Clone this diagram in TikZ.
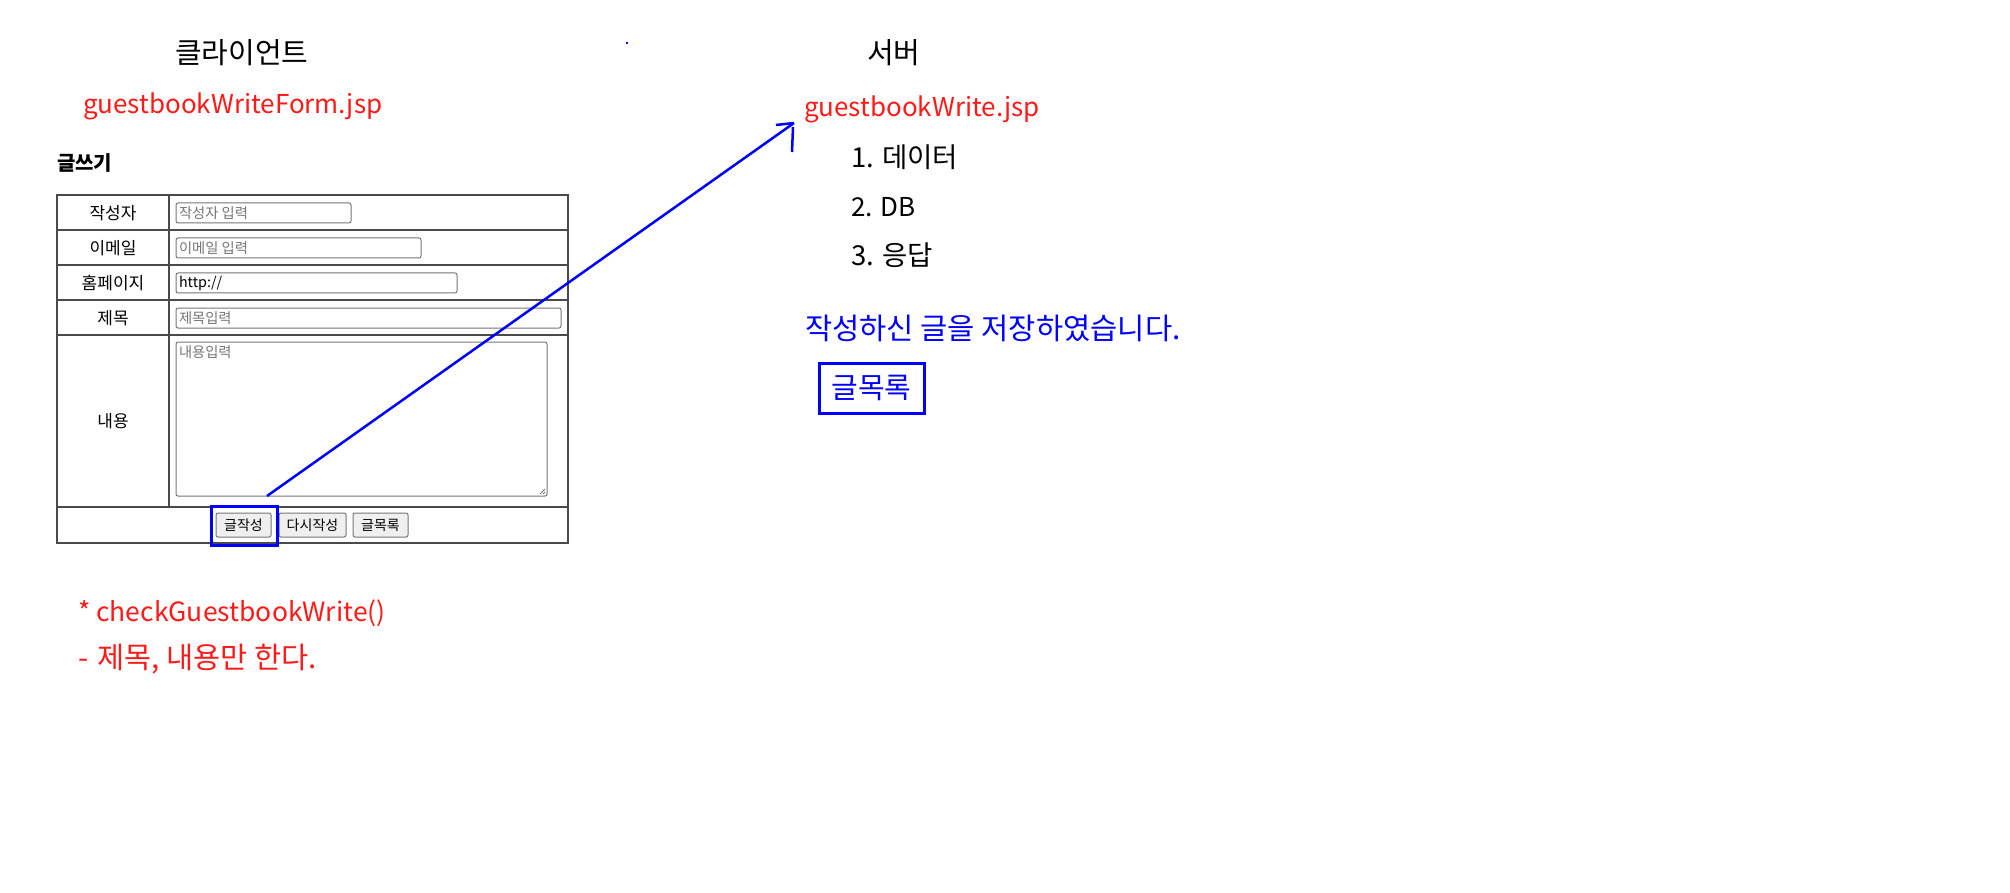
\documentclass[tikz,border=0pt]{standalone}
\usepackage{fontspec}
\setmainfont{Noto Sans CJK KR}
\definecolor{tline}{HTML}{4A4A4A}
\definecolor{ibord}{HTML}{767676}
\definecolor{phc}{HTML}{757575}
\definecolor{btnfill}{HTML}{EFEFEF}
\definecolor{redtxt}{HTML}{FF1A1A}
\definecolor{bluel}{HTML}{0000FF}
\newcommand{\fsz}[1]{\fontsize{#1}{#1}\selectfont}
\begin{document}
\begin{tikzpicture}[x=1pt,y=-1pt,
  every node/.style={inner sep=0pt, outer sep=0pt},
  txt/.style={anchor=base west},
  tbl/.style={draw=tline, line width=2pt},
  inbox/.style={draw=ibord, line width=1pt, rounded corners=2pt, fill=white},
  btnbox/.style={draw=ibord, line width=1pt, rounded corners=2pt, fill=btnfill},
  lbl/.style={font=\fsz{17}, text=black},
  phtxt/.style={anchor=west, font=\fsz{14.3}, text=phc},
  btntxt/.style={font=\fsz{14}, text=black},
  hl/.style={draw=bluel, line width=3pt},
  conn/.style={draw=bluel, line width=2.5pt}]
\useasboundingbox (0,0) rectangle (2010,893);
\fill[white] (0,0) rectangle (2010,893);

% titles
\node[txt, font=\fsz{29}] (client) at (175,64) {클라이언트};
\node[txt, font=\fsz{29}] (server) at (867,64) {서버};
\fill[bluel] (626,42) rectangle (628,44);

% client side
\node[txt, font=\fsz{26}, text=redtxt] (formjsp) at (83,114) {guestbookWriteForm.jsp};
\node[txt, font=\fsz{20}\bfseries] (write) at (57,171) {글쓰기};

% table
\draw[tbl] (57,195) rectangle (568,543);
\draw[tbl] (57,230) -- (568,230);
\draw[tbl] (57,265) -- (568,265);
\draw[tbl] (57,300) -- (568,300);
\draw[tbl] (57,335) -- (568,335);
\draw[tbl] (57,507) -- (568,507);
\draw[tbl] (169,195) -- (169,507);

\node[lbl] (l1) at (113,213) {작성자};
\node[lbl] (l2) at (113,248) {이메일};
\node[lbl] (l3) at (113,283) {홈페이지};
\node[lbl] (l4) at (113,318) {제목};
\node[lbl] (l5) at (113,421) {내용};

\draw[inbox] (176,203) rectangle (351,223);
\draw[inbox] (176,238) rectangle (421,258);
\draw[inbox] (176,273) rectangle (457,293);
\draw[inbox] (176,308) rectangle (561,328);
\draw[inbox] (176,342) rectangle (547,496);
\draw[ibord, line width=0.8pt] (545,489) -- (540,494) (545,492) -- (543,494);

\node[phtxt] (p1) at (179,213) {작성자 입력};
\node[phtxt] (p2) at (179,248) {이메일 입력};
\node[phtxt, text=black] (p3) at (179,283) {http://};
\node[phtxt] (p4) at (179,318) {제목입력};
\node[phtxt, anchor=north west] (p5) at (179,346) {내용입력};

% buttons
\draw[btnbox] (216,513) rectangle (271,537);
\draw[btnbox] (279,513) rectangle (346,537);
\draw[btnbox] (353,513) rectangle (408,537);
\node[btntxt] (b1) at (243.5,525) {글작성};
\node[btntxt] (b2) at (312.5,525) {다시작성};
\node[btntxt] (b3) at (380.5,525) {글목록};
\draw[hl] (211,506) rectangle (277,545);

% notes
\node[txt, font=\fsz{26.5}, text=redtxt] (n1) at (78,621) {* checkGuestbookWrite()};
\node[txt, font=\fsz{29.5}, text=redtxt] (n2) at (78,668) {-\hspace{0.08em} 제목, 내용만 한다.};

% server side
\node[txt, font=\fsz{26}, text=redtxt] (writejsp) at (804,117) {guestbookWrite.jsp};
\node[txt, font=\fsz{27.5}] (s1) at (851,168) {1. 데이터};
\node[txt, font=\fsz{26}] (s2) at (851,217) {2. DB};
\node[txt, font=\fsz{27.5}] (s3) at (851,266) {3. 응답};
\node[txt, font=\fsz{29.6}, text=bluel] (msg) at (805,339) {작성하신 글을 저장하였습니다.};
\node[draw=bluel, line width=3pt, minimum width=105pt, minimum height=50pt, font=\fsz{29}, text=bluel] (list) at (871.5,388) {글목록};

% connector
\coordinate (astart) at (267,496);
\coordinate (aend) at (794,123);
\draw[conn] (astart) -- (aend);
\draw[bluel, line width=2.5pt] (aend) -- ++(-18,2);
\draw[bluel, line width=2.5pt] (793,127) -- (792,152);
\end{tikzpicture}
\end{document}
